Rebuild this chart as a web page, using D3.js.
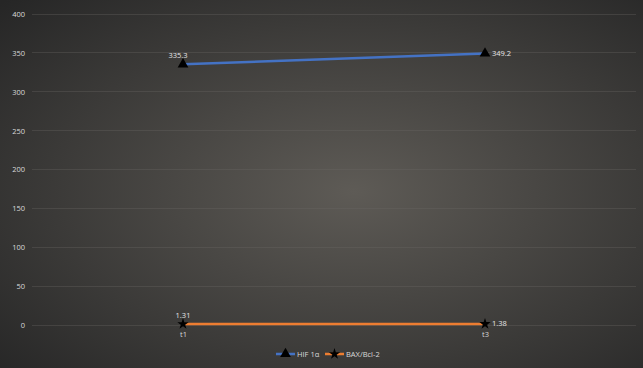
<!DOCTYPE html>
<html>
<head>
<meta charset="utf-8">
<script src="https://cdn.jsdelivr.net/npm/d3@7"></script>
<style>
  body { margin: 0; background: #2b2b2b; }
  svg { display: block; font-family: "Open Sans", "Liberation Sans", sans-serif; }
</style>
</head>
<body>
<div id="chart"></div>
<script>
const categories = ['t1', 't3']
const hifValues = [335.3, 349.2]
const baxValues = [1.31, 1.38]
const yTicks = [0, 50, 100, 150, 200, 250, 300, 350, 400]
const seriesNames = ['HIF 1α', 'BAX/Bcl-2']

const width = 643
const height = 368
const margins = { top: 14, right: 7, bottom: 43, left: 32 }

const svg = d3.select('#chart')
  .append('svg')
  .attr('width', width)
  .attr('height', height)

// background radial gradient
const defs = svg.append('defs')
const grad = defs.append('radialGradient')
  .attr('id', 'bg')
  .attr('cx', '55%').attr('cy', '52%').attr('r', '75%')
grad.append('stop').attr('offset', '0%').attr('stop-color', '#5e5b56')
grad.append('stop').attr('offset', '100%').attr('stop-color', '#262626')

svg.append('rect')
  .attr('width', width)
  .attr('height', height)
  .attr('fill', 'url(#bg)')

const x = d3.scalePoint(categories, [margins.left, width - margins.right]).padding(0.5)
const y = d3.scaleLinear([0, 400], [height - margins.bottom, margins.top])

// gridlines
svg.append('g')
  .selectAll('line')
  .data(yTicks)
  .enter()
  .append('line')
  .attr('x1', margins.left)
  .attr('x2', width - margins.right)
  .attr('y1', d => y(d))
  .attr('y2', d => y(d))
  .attr('stroke', '#6a6966')
  .attr('stroke-opacity', 0.45)
  .attr('stroke-width', 0.75)
  .style('shape-rendering', 'crispEdges')

// y axis labels
const yAxis = svg.append('g')
  .attr('transform', `translate(${margins.left - 7}, 0)`)
  .call(d3.axisLeft(y).tickValues(yTicks).tickSize(0).tickPadding(0))
yAxis.select('.domain').remove()
yAxis.selectAll('text')
  .attr('fill', '#d9d9d9')
  .style('font-size', '7.5px')
  .style('font-family', '"Open Sans", sans-serif')

// x axis labels
const xAxis = svg.append('g')
  .attr('transform', `translate(0, ${y(0) + 5})`)
  .call(d3.axisBottom(x).tickSize(0).tickPadding(2))
xAxis.select('.domain').remove()
xAxis.selectAll('text')
  .attr('fill', '#d9d9d9')
  .style('font-size', '7.5px')
  .style('font-family', '"Open Sans", sans-serif')

const lineGen = d3.line().x((d, i) => x(categories[i])).y(d => y(d))

const series = [
  { name: seriesNames[0], values: hifValues, color: '#4472c4', marker: d3.symbolTriangle, labelPos: ['above-left', 'right'] },
  { name: seriesNames[1], values: baxValues, color: '#ed7d31', marker: d3.symbolStar, labelPos: ['above', 'right'] }
]

series.forEach(s => {
  svg.append('path')
    .datum(s.values)
    .attr('fill', 'none')
    .attr('stroke', s.color)
    .attr('stroke-width', 2.5)
    .attr('d', lineGen)

  svg.append('g')
    .selectAll('path')
    .data(s.values)
    .enter()
    .append('path')
    .attr('transform', (d, i) => `translate(${x(categories[i])}, ${y(d)})`)
    .attr('d', d3.symbol().type(s.marker).size(s.marker === d3.symbolStar ? 40 : 50))
    .attr('fill', '#000')

  svg.append('g')
    .selectAll('text')
    .data(s.values)
    .enter()
    .append('text')
    .attr('x', (d, i) => {
      const p = s.labelPos[i]
      if (p === 'right') return x(categories[i]) + 7
      if (p === 'above-left') return x(categories[i]) - 5
      return x(categories[i])
    })
    .attr('y', (d, i) => s.labelPos[i] === 'right' ? y(d) + 2.5 : y(d) - 6)
    .attr('text-anchor', (d, i) => s.labelPos[i] === 'right' ? 'start' : 'middle')
    .attr('fill', '#e6e6e6')
    .style('font-size', '7.5px')
    .text(d => d)
})

// legend
const legend = svg.append('g')
  .attr('transform', `translate(0, ${height - 14})`)
const legendItems = [{ x: 276, s: series[0] }, { x: 325, s: series[1] }]
legendItems.forEach(item => {
  const g = legend.append('g').attr('transform', `translate(${item.x}, 0)`)
  g.append('line')
    .attr('x1', 0).attr('x2', 19)
    .attr('y1', 0).attr('y2', 0)
    .attr('stroke', item.s.color)
    .attr('stroke-width', 2.5)
  g.append('path')
    .attr('transform', 'translate(9.5, 0)')
    .attr('d', d3.symbol().type(item.s.marker).size(item.s.marker === d3.symbolStar ? 40 : 50))
    .attr('fill', '#000')
  g.append('text')
    .attr('x', 21)
    .attr('y', 2.5)
    .attr('fill', '#d9d9d9')
    .style('font-size', '7.5px')
    .text(item.s.name)
})
</script>
</body>
</html>
